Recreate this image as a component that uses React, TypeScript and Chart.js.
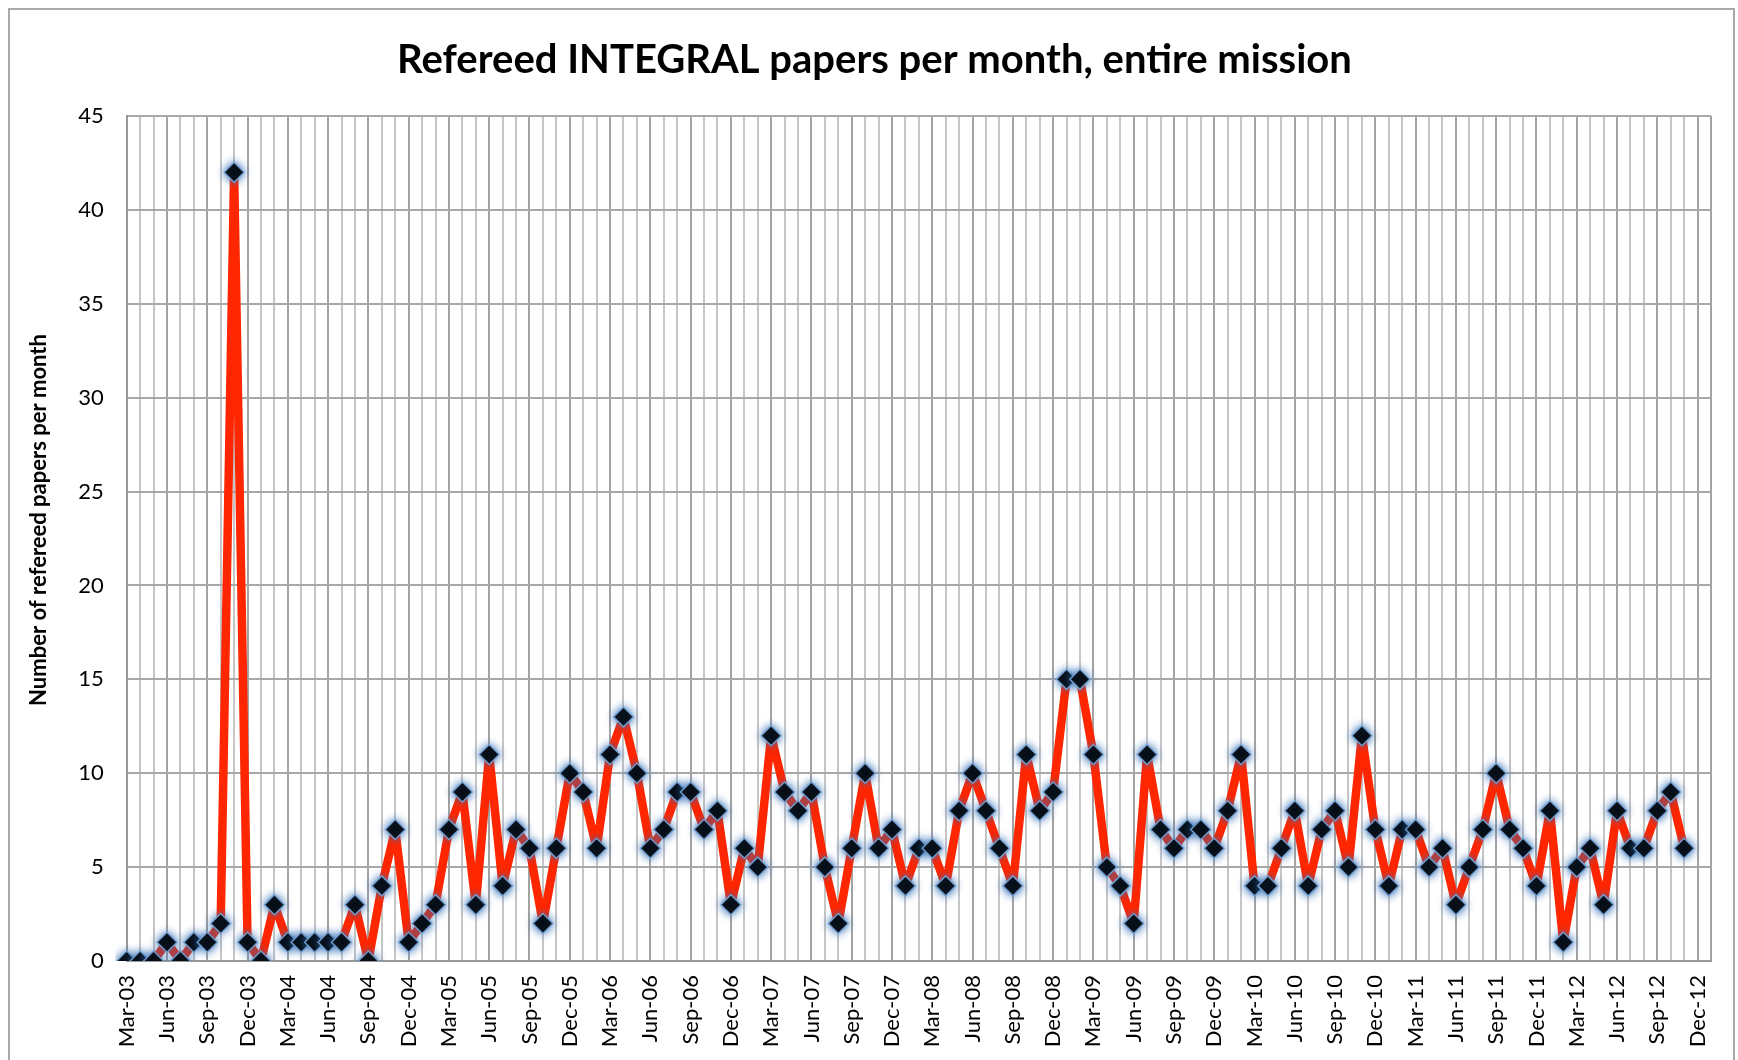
import React, { useEffect, useRef } from 'react';
import { Chart, registerables } from 'chart.js';

Chart.register(...registerables);

const TITLE = 'Refereed INTEGRAL papers per month, entire mission';
const Y_TITLE = 'Number of refereed papers per month';

const MONTH_NAMES = ['Jan', 'Feb', 'Mar', 'Apr', 'May', 'Jun', 'Jul', 'Aug', 'Sep', 'Oct', 'Nov', 'Dec'];
const FIRST_YEAR = 2003;
const FIRST_MONTH_INDEX = 2; // Mar
const MONTH_COUNT = 119; // Mar-03 .. Jan-13 (axis end)

// Refereed papers per month, Mar-03 .. Nov-12
const PAPERS = [
  0, 0, 0, 1, 0, 1, 1, 2, 42, 1,
  0, 3, 1, 1, 1, 1, 1, 3, 0, 4, 7,
  1, 2, 3, 7, 9, 3, 11, 4, 7, 6,
  2, 6, 10, 9, 6, 11, 13, 10, 6, 7, 9,
  9, 7, 8, 3, 6, 5, 12, 9, 8, 9, 5,
  2, 6, 10, 6, 7, 4, 6, 6, 4, 8,
  10, 8, 6, 4, 11, 8, 9, 15, 15, 11,
  5, 4, 2, 11, 7, 6, 7, 7, 6, 8, 11,
  4, 4, 6, 8, 4, 7, 8, 5, 12, 7, 4,
  7, 7, 5, 6, 3, 5, 7, 10, 7, 6,
  4, 8, 1, 5, 6, 3, 8, 6, 6, 8, 9, 6,
];

const Y_MIN = 0;
const Y_MAX = 45;
const Y_STEP = 5;
const LABEL_EVERY = 3;

const CATEGORIES: string[] = [];
for (let i = 0; i < MONTH_COUNT; i++) {
  const m = (FIRST_MONTH_INDEX + i) % 12;
  const y = FIRST_YEAR + Math.floor((FIRST_MONTH_INDEX + i) / 12);
  CATEGORIES.push(`${MONTH_NAMES[m]}-${String(y % 100).padStart(2, '0')}`);
}

const FONT = 'Lato';

const yTitlePlugin = {
  id: 'yTitleCustom',
  afterDraw(chart: any) {
    const { ctx } = chart;
    ctx.save();
    ctx.translate(29, 510);
    ctx.rotate(-Math.PI / 2);
    ctx.font = `bold 22px ${FONT}`;
    ctx.fillStyle = '#000';
    ctx.textAlign = 'center';
    ctx.textBaseline = 'middle';
    ctx.fillText(Y_TITLE, 0, 0);
    ctx.restore();
  },
};

const glowPlugin = {
  id: 'markerGlow',
  beforeDatasetDraw(chart: any, args: any) {
    if (args.index === 0) {
      const c = chart.ctx;
      c.save();
      c.shadowColor = 'rgba(50,110,180,1)';
      c.shadowBlur = 8;
    }
  },
  afterDatasetDraw(chart: any, args: any) {
    if (args.index === 0) chart.ctx.restore();
  },
};

export default function App() {
  const canvasRef = useRef<HTMLCanvasElement | null>(null);

  useEffect(() => {
    if (!canvasRef.current) return;
    const chart = new Chart(canvasRef.current, {
      type: 'line',
      data: {
        labels: CATEGORIES,
        datasets: [
          {
            label: 'markers',
            data: PAPERS,
            showLine: false,
            pointStyle: 'rectRot',
            pointRadius: 10,
            pointBackgroundColor: '#000',
            pointBorderColor: 'rgba(120,165,215,0.9)',
            pointBorderWidth: 1.5,
            borderColor: 'transparent',
          },
          {
            label: 'papers',
            data: PAPERS,
            borderColor: '#FF2600',
            borderWidth: 8.5,
            borderJoinStyle: 'round',
            pointRadius: 0,
            tension: 0,
            fill: false,
          },
        ],
      },
      options: {
        animation: false,
        responsive: true,
        maintainAspectRatio: false,
        layout: { padding: { left: 28, right: 22, top: 0, bottom: 0 } },
        plugins: {
          legend: { display: false },
          tooltip: { enabled: false },
          title: {
            display: true,
            text: TITLE,
            color: '#000',
            font: { family: FONT, size: 40, weight: 'bold', lineHeight: 1.2 },
            padding: { top: 26, bottom: 32 },
          },
        },
        scales: {
          x: {
            type: 'category',
            offset: false,
            afterFit: (scale: any) => {
              scale.height = 101;
              scale.paddingLeft = 0;
              scale.paddingRight = 0;
            },
            grid: {
              drawTicks: false,
              lineWidth: 2,
              color: (ctx: any) =>
                ctx.index % LABEL_EVERY === 0 || ctx.index === MONTH_COUNT - 1 ? '#a3a3a3' : '#c6c6c6',
            },
            border: { display: true, color: '#9a9a9a', width: 2 },
            ticks: {
              autoSkip: false,
              minRotation: 90,
              maxRotation: 90,
              padding: 14,
              color: '#000',
              font: { family: FONT, size: 22 },
              callback: (_v: any, i: number) => (i % LABEL_EVERY === 0 ? CATEGORIES[i] : ''),
            },
          },
          y: {
            min: Y_MIN,
            max: Y_MAX,
            afterFit: (scale: any) => {
              scale.width = 88.7;
            },
            grid: { drawTicks: false, lineWidth: 2, color: '#a8a8a8' },
            border: { display: true, color: '#9a9a9a', width: 2 },
            ticks: {
              stepSize: Y_STEP,
              padding: 23,
              color: '#000',
              font: { family: FONT, size: 22 },
            },
          },
        },
      },
      plugins: [yTitlePlugin, glowPlugin],
    });
    return () => chart.destroy();
  }, []);

  return (
    <div
      style={{
        position: 'fixed',
        left: 8,
        top: 8,
        width: 1727,
        height: 1056,
        boxSizing: 'border-box',
        border: '2px solid #a9a9a9',
        background: '#fff',
      }}
    >
      <div style={{ position: 'relative', width: '100%', height: '100%' }}>
        <canvas ref={canvasRef} />
      </div>
    </div>
  );
}
